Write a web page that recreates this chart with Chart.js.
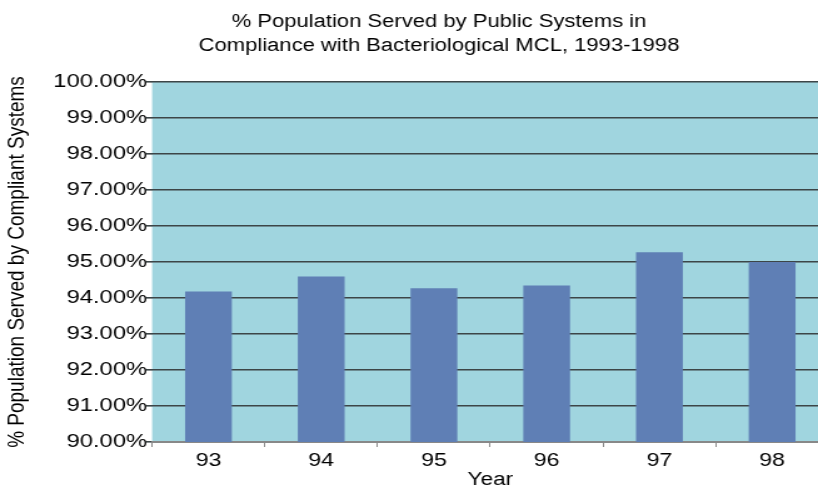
<!DOCTYPE html>
<html>
<head>
<meta charset="utf-8">
<script src="https://cdn.jsdelivr.net/npm/chart.js@4/dist/chart.umd.min.js"></script>
<style>
  html, body { margin: 0; padding: 0; background: #ffffff; overflow: hidden; }
  #wrap { width: 818px; height: 487px; position: relative; overflow: hidden; }
</style>
</head>
<body>
<div id="wrap">
  <!-- laid out at 670 units wide, widened to 837.5px on screen -->
  <canvas id="c" width="670" height="487" style="display:block;width:837.5px;height:487px;"></canvas>
</div>
<script>
// Survey years (two-digit labels) and compliance percentages
const years = ['93', '94', '95', '96', '97', '98'];
const percentServed = [94.18, 94.60, 94.27, 94.35, 95.27, 95.00];
const yTicks = [90, 91, 92, 93, 94, 95, 96, 97, 98, 99, 100];
const titleLines = ['% Population Served by Public Systems in', 'Compliance with Bacteriological MCL, 1993-1998'];
const yAxisTitle = '% Population Served by Compliant Systems';
const xAxisTitle = 'Year';

const FONT = '"Liberation Sans", Arial, Helvetica, sans-serif';

// Teal plot background
const plotBackground = {
  id: 'plotBackground',
  beforeDraw(chart) {
    const { ctx, chartArea: a } = chart;
    ctx.save();
    ctx.fillStyle = '#a0d5df';
    ctx.fillRect(a.left, a.top, a.right - a.left, a.bottom - a.top);
    ctx.restore();
  }
};

// Two-line heading
const heading = {
  id: 'heading',
  afterDraw(chart) {
    const { ctx } = chart;
    ctx.save();
    ctx.fillStyle = '#000';
    ctx.font = '17.6px ' + FONT;
    ctx.textAlign = 'center';
    ctx.textBaseline = 'alphabetic';
    ctx.fillText(titleLines[0], 351, 27);
    ctx.fillText(titleLines[1], 351, 51);
    ctx.restore();
  }
};

new Chart(document.getElementById('c'), {
  type: 'bar',
  data: {
    labels: years,
    datasets: [{
      data: percentServed,
      backgroundColor: '#5f7fb5',
      borderWidth: 0,
      barPercentage: 0.415,
      categoryPercentage: 1.0
    }]
  },
  options: {
    responsive: false,
    animation: false,
    devicePixelRatio: 1,
    layout: { padding: { top: 82, right: 7.6, bottom: 0, left: 0 } },
    plugins: {
      legend: { display: false },
      tooltip: { enabled: false },
      title: { display: false }
    },
    scales: {
      x: {
        offset: true,
        grid: {
          offset: true,
          drawOnChartArea: false,
          drawTicks: true,
          tickLength: 5,
          color: '#8a8a8a'
        },
        border: { display: true, color: '#888888', width: 2 },
        ticks: { color: '#000', font: { family: FONT, size: 18.5 }, padding: 3 },
        title: {
          display: true,
          text: xAxisTitle,
          color: '#000',
          font: { family: FONT, size: 18 },
          padding: { top: 0, bottom: -4 }
        },
        afterFit(scale) { scale.height = 45; }
      },
      y: {
        min: 90,
        max: 100,
        afterBuildTicks(scale) { scale.ticks = yTicks.map(v => ({ value: v })); },
        grid: {
          color: '#3c4547',
          lineWidth: 1.6,
          tickLength: 5,
          drawTicks: true
        },
        border: { display: false },
        ticks: {
          color: '#000',
          font: { family: FONT, size: 19 },
          padding: -1,
          callback: v => v.toFixed(2) + '%'
        },
        title: {
          display: true,
          text: yAxisTitle,
          color: '#000',
          font: { family: FONT, size: 19 },
          padding: { top: 2, bottom: 0 }
        },
        afterFit(scale) { scale.width = 121.6; }
      }
    }
  },
  plugins: [plotBackground, heading]
});
</script>
</body>
</html>
